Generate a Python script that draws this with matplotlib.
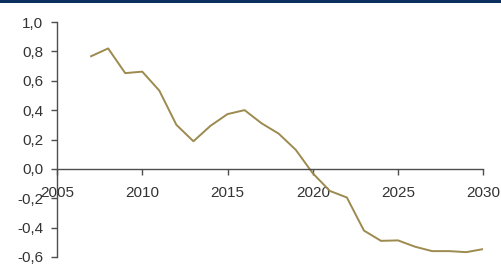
import numpy as np
import matplotlib.pyplot as plt
from matplotlib.ticker import FuncFormatter

years = list(range(2007, 2031))
values = [0.767, 0.82, 0.652, 0.662, 0.533, 0.30, 0.188, 0.293, 0.373, 0.40,
          0.31, 0.24, 0.13, -0.03, -0.15, -0.195, -0.42, -0.49, -0.487, -0.53,
          -0.56, -0.56, -0.567, -0.546]

line_color = '#9C8A4E'
text_color = '#333333'
axis_color = '#4d4d4d'

plt.rcParams['font.family'] = ['Liberation Sans', 'DejaVu Sans']

fig = plt.figure(figsize=(5.02, 2.64), dpi=100)
# navy strip along the top edge
fig.add_artist(plt.Rectangle((0, 1 - 3 / 264), 1, 3 / 264, transform=fig.transFigure,
                             color='#0B2F5E', lw=0))

ax = fig.add_axes([57 / 502, 7 / 264, (483.3 - 57) / 502, 235 / 264])
ax.plot(years, values, color=line_color, lw=1.4)

ax.set_xlim(2005, 2030)
ax.set_ylim(-0.6, 1.0)
ax.set_xticks(range(2005, 2031, 5))
ax.set_yticks(np.arange(-0.6, 1.01, 0.2))
ax.yaxis.set_major_formatter(FuncFormatter(lambda v, p: f'{v:.1f}'.replace('.', ',').replace('-0,0', '0,0')))

for side in ['top', 'right']:
    ax.spines[side].set_visible(False)
ax.spines['bottom'].set_position(('data', 0))
for side in ['left', 'bottom']:
    ax.spines[side].set_color(axis_color)
    ax.spines[side].set_linewidth(1.0)

ax.tick_params(axis='both', colors=axis_color, labelcolor=text_color, labelsize=11,
               length=4, width=1.0, direction='out')
ax.tick_params(axis='x', pad=8)
ax.tick_params(axis='y', pad=6)

fig.savefig('out.png', dpi=100)
